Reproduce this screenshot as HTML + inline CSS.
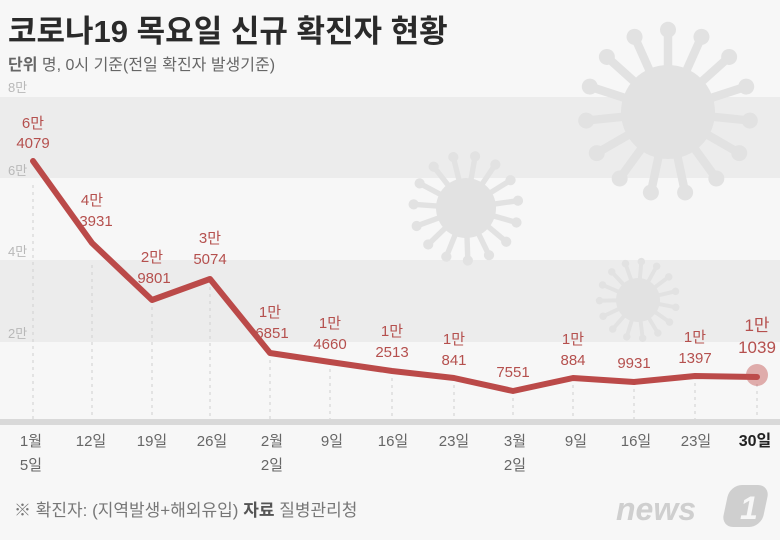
<!DOCTYPE html>
<html><head><meta charset="utf-8"><style>
body{margin:0;width:780px;height:540px;overflow:hidden;background:#f7f7f7;font-family:"Liberation Sans","Noto Sans CJK KR",sans-serif}
</style></head><body>
<svg width="780" height="540" xmlns="http://www.w3.org/2000/svg" style="position:absolute;left:0;top:0">
<defs>
<g id="vir">
<circle r="1" fill="#e2e2e2"/>
<g fill="#e2e2e2">
<g id="s1"><rect x="-0.09" y="-1.75" width="0.18" height="0.8"/><circle cy="-1.75" r="0.17"/></g>
<use href="#s1" transform="rotate(24)"/><use href="#s1" transform="rotate(48)"/><use href="#s1" transform="rotate(72)"/>
<use href="#s1" transform="rotate(96)"/><use href="#s1" transform="rotate(120)"/><use href="#s1" transform="rotate(144)"/>
<use href="#s1" transform="rotate(168)"/><use href="#s1" transform="rotate(192)"/><use href="#s1" transform="rotate(216)"/>
<use href="#s1" transform="rotate(240)"/><use href="#s1" transform="rotate(264)"/><use href="#s1" transform="rotate(288)"/>
<use href="#s1" transform="rotate(312)"/><use href="#s1" transform="rotate(336)"/>
</g></g>
</defs>
<rect x="0" y="97" width="780" height="81" fill="#ececec"/>
<rect x="0" y="260" width="780" height="82" fill="#ececec"/>
<use href="#vir" transform="translate(668,112) scale(47)"/>
<use href="#vir" transform="translate(466,208) scale(30) rotate(10)"/>
<use href="#vir" transform="translate(638,300) scale(22) rotate(5)"/>
<rect x="0" y="419" width="780" height="6" fill="#d9d9d9"/>
<g stroke="#cfcfcf" stroke-width="1" stroke-dasharray="3,4">
<line x1="33" y1="185" x2="33" y2="419"/><line x1="92" y1="265" x2="92" y2="419"/><line x1="152" y1="300" x2="152" y2="419"/>
<line x1="210" y1="280" x2="210" y2="419"/><line x1="270" y1="353" x2="270" y2="419"/><line x1="330" y1="362" x2="330" y2="419"/>
<line x1="392" y1="371" x2="392" y2="419"/><line x1="454" y1="378" x2="454" y2="419"/><line x1="513" y1="391" x2="513" y2="419"/>
<line x1="573" y1="378" x2="573" y2="419"/><line x1="634" y1="382" x2="634" y2="419"/><line x1="695" y1="376" x2="695" y2="419"/>
<line x1="757" y1="377" x2="757" y2="419"/>
</g>
<g font-size="13" fill="#b8b8b8"><text x="8" y="92">8만</text><text x="8" y="175">6만</text><text x="8" y="256">4만</text><text x="8" y="338">2만</text></g>
<polyline fill="none" stroke="#bb4a49" stroke-width="6" stroke-linejoin="round" stroke-linecap="round"
points="33,161 92,243 152,300 210,279 270,353 330,362 392,371 454,378 513,391 573,378 634,382 695,376 757,377"/>
<circle cx="757" cy="375" r="11" fill="#c0504d" opacity="0.45"/>
<g font-size="15" fill="#b5504e" text-anchor="middle">
<text x="33" y="128">6만</text><text x="33" y="148">4079</text>
<text x="92" y="205">4만</text><text x="96" y="226">3931</text>
<text x="152" y="262">2만</text><text x="154" y="283">9801</text>
<text x="210" y="243">3만</text><text x="210" y="264">5074</text>
<text x="270" y="317">1만</text><text x="272" y="338">6851</text>
<text x="330" y="328">1만</text><text x="330" y="349">4660</text>
<text x="392" y="336">1만</text><text x="392" y="357">2513</text>
<text x="454" y="344">1만</text><text x="454" y="365">841</text>
<text x="513" y="377">7551</text>
<text x="573" y="344">1만</text><text x="573" y="365">884</text>
<text x="634" y="368">9931</text>
<text x="695" y="342">1만</text><text x="695" y="363">1397</text>
<text x="757" y="331" font-size="17">1만</text><text x="757" y="353" font-size="17">1039</text>
</g>
<g font-size="15" fill="#666" text-anchor="middle">
<text x="31" y="446">1월</text><text x="31" y="470">5일</text>
<text x="91" y="446">12일</text><text x="152" y="446">19일</text><text x="212" y="446">26일</text>
<text x="272" y="446">2월</text><text x="272" y="470">2일</text>
<text x="332" y="446">9일</text><text x="393" y="446">16일</text><text x="454" y="446">23일</text>
<text x="515" y="446">3월</text><text x="515" y="470">2일</text>
<text x="576" y="446">9일</text><text x="636" y="446">16일</text><text x="696" y="446">23일</text>
<text x="755" y="446" fill="#222" font-weight="bold" font-size="16">30일</text>
</g>
<text x="8" y="42" font-size="31" font-weight="bold" fill="#2a2a2a">코로나19 목요일 신규 확진자 현황</text>
<text x="8" y="70" font-size="16" fill="#666"><tspan font-weight="bold">단위</tspan>  명, 0시 기준(전일 확진자 발생기준)</text>
<text x="14" y="516" font-size="17" fill="#777">※ 확진자: (지역발생+해외유입)  <tspan font-weight="bold" fill="#555">자료</tspan>  질병관리청</text>
<text x="616" y="520" font-size="32" font-weight="bold" font-style="italic" fill="#cfcfcf">news</text>
<rect x="0" y="0" width="40" height="42" rx="12" fill="#cfcfcf" transform="translate(730,485) skewX(-12)"/>
<text x="740" y="519" font-size="32" font-weight="bold" font-style="italic" fill="#f7f7f7">1</text>
</svg>
</body></html>
